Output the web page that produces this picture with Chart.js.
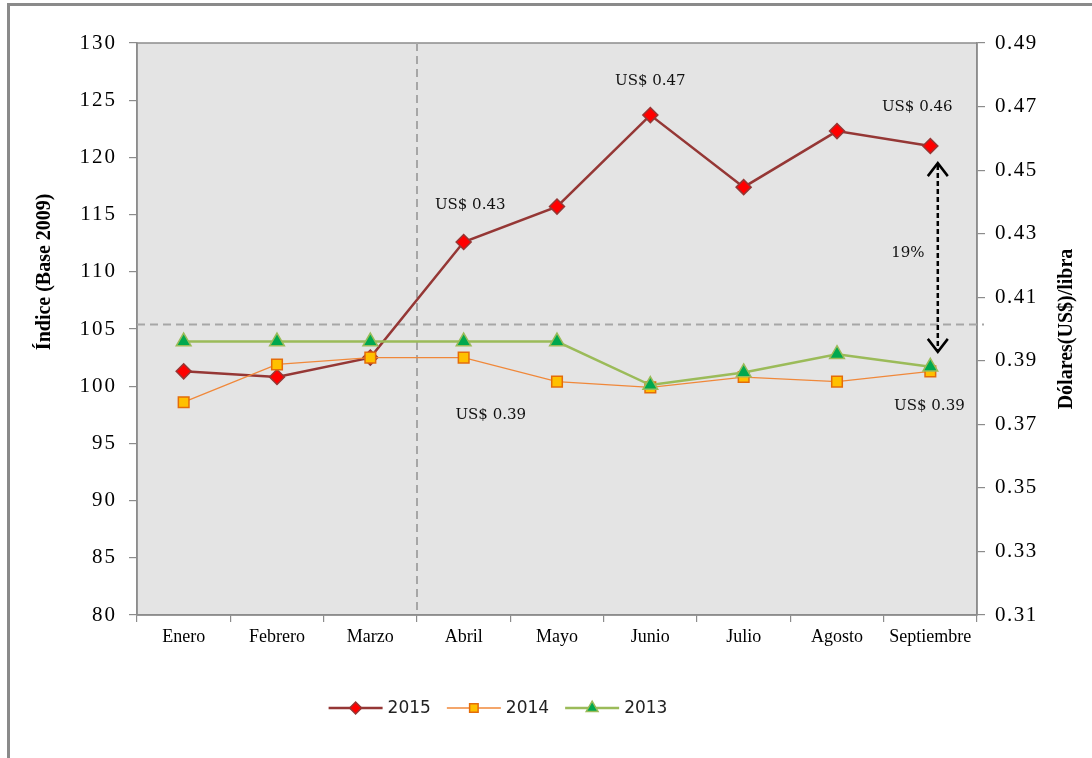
<!DOCTYPE html>
<html><head><meta charset="utf-8">
<script src="https://cdn.jsdelivr.net/npm/chart.js@4.4.1/dist/chart.umd.min.js"></script>
<style>
html,body{margin:0;padding:0;background:#fff;}
#wrap{position:relative;width:1092px;height:758px;overflow:hidden;}
#frame{position:absolute;left:7px;top:3px;width:1200px;height:900px;border-left:3px solid #8a8a8a;border-top:3px solid #8a8a8a;}
canvas{position:absolute;left:0;top:0;}
</style></head><body>
<div id="wrap"><div id="frame"></div><canvas id="c" width="1092" height="758"></canvas></div>
<script>
// ---- data ----
const months = ['Enero','Febrero','Marzo','Abril','Mayo','Junio','Julio','Agosto','Septiembre'];
const seriesNames = ['2015','2014','2013'];
const values2015 = [101.3, 100.8, 102.5, 112.6, 115.7, 123.7, 117.4, 122.3, 121.0];
const values2014 = [98.6, 101.9, 102.5, 102.5, 100.4, 99.9, 100.8, 100.4, 101.3];
const values2013 = [103.9, 103.9, 103.9, 103.9, 103.9, 100.1, 101.2, 102.8, 101.7];
const leftAxis = {min: 80, max: 130, step: 5};
const rightAxis = {min: 0.31, max: 0.49, step: 0.02};
const leftTitle = 'Índice (Base 2009)';
const rightTitle = 'Dólares(US$)/libra';
const refLineValue = 105.4;          // horizontal dashed reference
const dividerAfter = 'Marzo';        // vertical dashed divider after this month
const annoTexts = ['US$ 0.43','US$ 0.47','US$ 0.46','US$ 0.39','US$ 0.39','19%'];
const annoCats  = [3.07, 5.0, 7.86, 3.29, 7.99, 7.76];
const annoVals  = [115.8, 126.7, 124.4, 97.5, 98.3, 111.6];
const arrowCat = 8.08, arrowFrom = 119.5, arrowTo = 103.0;

const serif = 'Liberation Serif, Times New Roman, serif';

const plotBg = {
  id: 'plotBg',
  beforeDraw(chart) {
    const {ctx, chartArea: a} = chart;
    ctx.save();
    ctx.fillStyle = '#e4e4e4';
    ctx.fillRect(a.left, a.top, a.right - a.left, a.bottom - a.top);
    ctx.strokeStyle = '#8c8c8c';
    ctx.lineWidth = 1.5;
    ctx.strokeRect(a.left, a.top, a.right - a.left, a.bottom - a.top);
    ctx.restore();
  }
};

const refLines = {
  id: 'refLines',
  beforeDatasetsDraw(chart) {
    const {ctx, chartArea: a, scales} = chart;
    const y = scales.y.getPixelForValue(refLineValue);
    const i = months.indexOf(dividerAfter);
    const x = (scales.x.getPixelForValue(i) + scales.x.getPixelForValue(i + 1)) / 2;
    ctx.save();
    ctx.strokeStyle = '#a6a6a6';
    ctx.lineWidth = 2;
    ctx.setLineDash([8, 5]);
    ctx.beginPath();
    ctx.moveTo(a.left, y); ctx.lineTo(a.right + 7, y);
    ctx.moveTo(x, a.top); ctx.lineTo(x, a.bottom);
    ctx.stroke();
    ctx.restore();
  }
};

function catPixel(scale, c) {
  const i = Math.floor(c);
  const p0 = scale.getPixelForValue(i);
  const p1 = scale.getPixelForValue(i + 1);
  return p0 + (c - i) * (p1 - p0);
}

const annotations = {
  id: 'annotations',
  afterDatasetsDraw(chart) {
    const {ctx, scales} = chart;
    ctx.save();
    ctx.fillStyle = '#111';
    ctx.font = '15px "DejaVu Serif", serif';
    ctx.textAlign = 'center';
    ctx.textBaseline = 'middle';
    annoTexts.forEach((t, k) => {
      ctx.fillText(t, catPixel(scales.x, annoCats[k]), scales.y.getPixelForValue(annoVals[k]));
    });
    // double arrow
    const x = catPixel(scales.x, arrowCat);
    const y0 = scales.y.getPixelForValue(arrowFrom);
    const y1 = scales.y.getPixelForValue(arrowTo);
    ctx.strokeStyle = '#000';
    ctx.lineWidth = 2.5;
    ctx.setLineDash([5, 3]);
    ctx.beginPath();
    ctx.moveTo(x, y0 + 2); ctx.lineTo(x, y1 - 2);
    ctx.stroke();
    ctx.setLineDash([]);
    ctx.beginPath();
    ctx.moveTo(x - 10, y0 + 13); ctx.lineTo(x, y0); ctx.lineTo(x + 10, y0 + 13);
    ctx.moveTo(x - 10, y1 - 13); ctx.lineTo(x, y1); ctx.lineTo(x + 10, y1 - 13);
    ctx.stroke();
    ctx.restore();
  }
};

const axisTitles = {
  id: 'axisTitles',
  afterDraw(chart) {
    const {ctx, chartArea: a} = chart;
    ctx.save();
    ctx.fillStyle = '#000';
    ctx.font = 'bold 20px ' + serif;
    ctx.textAlign = 'center';
    ctx.textBaseline = 'middle';
    ctx.save();
    ctx.translate(45, a.top + (a.bottom - a.top) * 0.40);
    ctx.rotate(-Math.PI / 2);
    ctx.fillText(leftTitle, 0, 0);
    ctx.restore();
    ctx.save();
    ctx.translate(chart.width - 25, (a.top + a.bottom) / 2);
    ctx.rotate(-Math.PI / 2);
    ctx.fillText(rightTitle, 0, 0);
    ctx.restore();
    ctx.restore();
  }
};

function drawMarker(ctx, ds, x, y, r) {
  ctx.save();
  ctx.fillStyle = ds.pointBackgroundColor;
  ctx.strokeStyle = ds.pointBorderColor;
  ctx.lineWidth = ds.pointBorderWidth;
  Chart.helpers.drawPoint(ctx, {pointStyle: ds.pointStyle, radius: r, borderWidth: ds.pointBorderWidth, rotation: 0}, x, y);
  ctx.restore();
}

const lineLegend = {
  id: 'lineLegend',
  afterDraw(chart) {
    const {ctx} = chart;
    const lineLen = 54, gapText = 5, gapItem = 16;
    const y = 708;
    ctx.save();
    ctx.font = '17px "DejaVu Sans", sans-serif';
    const items = chart.data.datasets.map(ds => ({ds, w: ctx.measureText(ds.label).width}));
    const total = items.reduce((s, it) => s + lineLen + gapText + it.w, 0) + gapItem * (items.length - 1);
    let x = 498 - total / 2;
    items.forEach(({ds, w}) => {
      ctx.strokeStyle = ds.borderColor;
      ctx.lineWidth = ds.borderWidth;
      ctx.beginPath();
      ctx.moveTo(x, y); ctx.lineTo(x + lineLen, y);
      ctx.stroke();
      drawMarker(ctx, ds, x + lineLen / 2, y, ds.pointRadius * 0.8);
      ctx.fillStyle = '#222';
      ctx.textAlign = 'left';
      ctx.textBaseline = 'middle';
      ctx.fillText(ds.label, x + lineLen + gapText, y + 1);
      x += lineLen + gapText + w + gapItem;
    });
    ctx.restore();
  }
};

function spacedLabels(scale, spacing) {
  if (scale._spacedWrap) return;
  const orig = scale.drawLabels.bind(scale);
  scale.drawLabels = function (area) {
    const prev = scale.ctx.letterSpacing;
    scale.ctx.letterSpacing = spacing;
    orig(area);
    scale.ctx.letterSpacing = prev || '0px';
  };
  scale._spacedWrap = true;
}

const axisGrid = {display: true, drawOnChartArea: false, drawTicks: true, color: '#8c8c8c', lineWidth: 1.2};

new Chart(document.getElementById('c'), {
  type: 'line',
  data: {
    labels: months,
    datasets: [
      {label: seriesNames[0], data: values2015, borderColor: '#953735', borderWidth: 2.5,
       pointStyle: 'rectRot', pointRadius: 7.5, pointBackgroundColor: '#ff0000', pointBorderColor: '#953735',
       pointBorderWidth: 1.5, order: 3, tension: 0},
      {label: seriesNames[1], data: values2014, borderColor: '#f0883a', borderWidth: 1.3,
       pointStyle: 'rect', pointRadius: 7.5, pointBackgroundColor: '#ffc000', pointBorderColor: '#e46c0a',
       pointBorderWidth: 1.5, order: 2, tension: 0},
      {label: seriesNames[2], data: values2013, borderColor: '#9bbb59', borderWidth: 2.5,
       pointStyle: 'triangle', pointRadius: 8.5, pointBackgroundColor: '#00a84f', pointBorderColor: '#9bbb59',
       pointBorderWidth: 1.5, order: 1, tension: 0}
    ]
  },
  options: {
    responsive: false,
    devicePixelRatio: 1,
    animation: false,
    layout: {padding: {top: 43, left: 0, right: 0, bottom: 103}},
    plugins: {legend: {display: false}, tooltip: {enabled: false}, title: {display: false}},
    scales: {
      x: {
        type: 'category', offset: true,
        grid: Object.assign({offset: true, tickLength: 7}, axisGrid),
        border: {display: true, color: '#8c8c8c', width: 1.5},
        ticks: {font: {family: serif, size: 18}, color: '#000', padding: 4, maxRotation: 0, autoSkip: false},
        afterFit: s => { s.height = 40; }
      },
      y: {
        position: 'left', min: leftAxis.min, max: leftAxis.max,
        grid: Object.assign({tickLength: 8}, axisGrid),
        border: {display: true, color: '#8c8c8c', width: 1.5},
        ticks: {stepSize: leftAxis.step, font: {family: serif, size: 21}, color: '#000', padding: 12},
        afterFit: s => { s.width = 137; spacedLabels(s, '2px'); }
      },
      y1: {
        position: 'right', min: rightAxis.min, max: rightAxis.max,
        grid: Object.assign({tickLength: 8}, axisGrid),
        border: {display: true, color: '#8c8c8c', width: 1.5},
        ticks: {stepSize: rightAxis.step, font: {family: serif, size: 21}, color: '#000', padding: 10,
                callback: v => v.toFixed(2)},
        afterFit: s => { s.width = 115; spacedLabels(s, '1.5px'); }
      }
    }
  },
  plugins: [plotBg, refLines, annotations, axisTitles, lineLegend]
});
</script>
</body></html>
